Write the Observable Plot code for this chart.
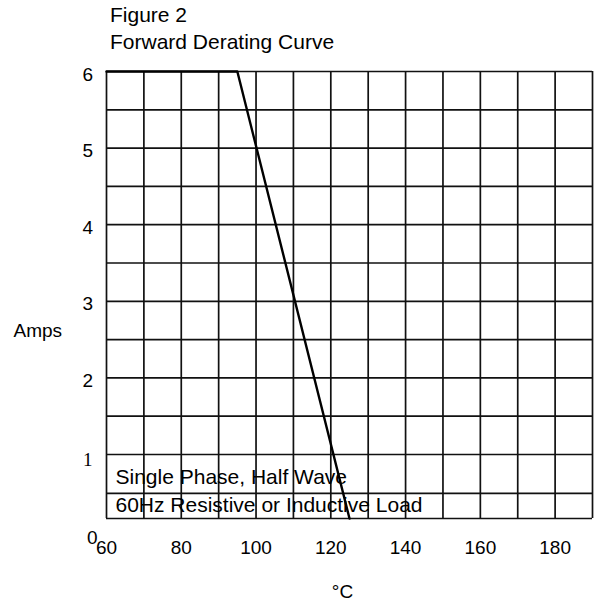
<!DOCTYPE html>
<html>
<head>
<meta charset="utf-8">
<script src="https://cdn.jsdelivr.net/npm/d3@7"></script>
<script src="https://cdn.jsdelivr.net/npm/@observablehq/plot@0.6"></script>
<style>
  html, body { margin: 0; padding: 0; background: #fff; }
  body { width: 598px; height: 610px; overflow: hidden; font-family: "Liberation Sans", Arial, Helvetica, sans-serif; }
  #title { padding: 1px 0 0 110px; height: 54px; font-size: 21px; line-height: 27px; color: #000; }
</style>
</head>
<body>
<div id="title">Figure 2<br>Forward Derating Curve</div>
<div id="chart"></div>
<script>
// Data
const temps = [60, 95, 125];          // °C
const amps  = [6, 6, 0];              // Amps
const xTicks = [60, 80, 100, 120, 140, 160, 180];
const yTicksSans = [2, 3, 4, 5, 6];
const yTickSerif = [1];
const yTickZero = [0];
const xGrid = [60, 70, 80, 90, 100, 110, 120, 130, 140, 150, 160, 170, 180, 190];
const yGrid = [0, 0.5, 1, 1.5, 2, 2.5, 3, 3.5, 4, 4.5, 5, 5.5, 6];
const noteLines = ["Single Phase, Half Wave", "60Hz Resistive or Inductive Load"];

// the printed grid is uneven near the bottom (the 0–1 band is squeezed)
const ampWarp = d3.scaleLinear().domain([0, 0.5, 1, 6]).range([0, 0.336, 0.859, 6]);

const curve = temps.map((t, i) => ({t, a: amps[i]}));

const chart = Plot.plot({
  width: 598,
  height: 555,
  marginLeft: 106,
  marginRight: 6,
  marginTop: 16,
  marginBottom: 92,
  style: {fontFamily: "'Liberation Sans', Arial, Helvetica, sans-serif", color: "#000", background: "#fff"},
  x: {domain: [60, 190], axis: null},
  y: {domain: [0, 6], transform: ampWarp, axis: null},
  marks: [
    Plot.ruleX(xGrid, {x: d => d, stroke: "#111", strokeWidth: 1.7}),
    Plot.ruleY(yGrid, {y: d => d, stroke: "#111", strokeWidth: 1.7}),
    Plot.line(curve, {x: "t", y: "a", stroke: "#000", strokeWidth: 2.4}),
    Plot.text([noteLines.join("\n")], {
      frameAnchor: "bottom-left", textAnchor: "start", lineAnchor: "bottom",
      lineHeight: 1.33, dx: 9, dy: -7, fontSize: 21, fill: "#000"
    }),
    Plot.text(xTicks, {x: d => d, frameAnchor: "bottom", dy: 35, fontSize: 19, fill: "#000"}),
    Plot.text(yTicksSans, {y: d => d, frameAnchor: "left", textAnchor: "end", dx: -13.5, dy: 3, fontSize: 19, fill: "#000"}),
    Plot.text(yTickSerif, {y: d => d, frameAnchor: "left", textAnchor: "end", dx: -14, dy: 5.5, fontSize: 19, fontFamily: "'Liberation Serif', 'Times New Roman', serif", fill: "#000"}),
    Plot.text(yTickZero, {y: d => d, frameAnchor: "left", textAnchor: "end", dx: -9, dy: 19, fontSize: 19, fill: "#000"}),
    Plot.text(["Amps"], {frameAnchor: "left", textAnchor: "start", dx: -93, dy: 35.5, fontSize: 19, fill: "#000"}),
    Plot.text(["°C"], {frameAnchor: "bottom", dx: -7, dy: 79, fontSize: 19, fill: "#000"})
  ]
});
document.getElementById("chart").appendChild(chart);
</script>
</body>
</html>
